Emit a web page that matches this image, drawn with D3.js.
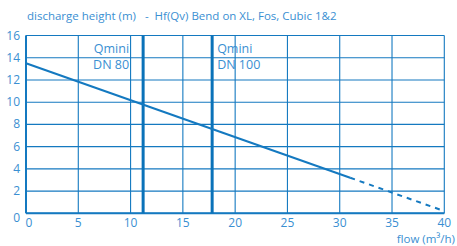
<!DOCTYPE html>
<html>
<head>
<meta charset="utf-8">
<script src="https://cdn.jsdelivr.net/npm/d3@7"></script>
<style>
  body { margin: 0; background: #fff; }
  svg text { font-family: "Open Sans", Lato, sans-serif; fill: #3a8fd2; }
</style>
</head>
<body>
<div id="chart"></div>
<script>
var xTicks = [0, 5, 10, 15, 20, 25, 30, 35, 40];
var yTicks = [0, 2, 4, 6, 8, 10, 12, 14, 16];
var solidCurve = [[0, 13.5], [31, 3.2]];
var dashedCurve = [[31, 3.2], [40, 0.2]];
var qminiFlows = [11.2, 17.8];
var qminiLabels = [["Qmini", "DN 80"], ["Qmini", "DN 100"]];

var width = 457, height = 246;
var blue = '#1479c0';

var svg = d3.select('#chart')
  .append('svg')
  .attr('width', width)
  .attr('height', height);

var x = d3.scaleLinear().domain([0, 40]).range([26, 444.3]);
var y = d3.scaleLinear().domain([0, 16]).range([213.3, 35.5]);

// grid
svg.selectAll('line.vgrid')
  .data(xTicks)
  .enter()
  .append('line')
  .attr('x1', function(d) { return x(d); })
  .attr('x2', function(d) { return x(d); })
  .attr('y1', y(0))
  .attr('y2', y(16))
  .attr('stroke', blue)
  .attr('stroke-width', 1.1);

svg.selectAll('line.hgrid')
  .data(yTicks)
  .enter()
  .append('line')
  .attr('x1', x(0))
  .attr('x2', x(40))
  .attr('y1', function(d) { return y(d); })
  .attr('y2', function(d) { return y(d); })
  .attr('stroke', blue)
  .attr('stroke-width', 1.1);

// axes lines
svg.append('line')
  .attr('x1', x(0)).attr('x2', x(0))
  .attr('y1', y(0)).attr('y2', y(16))
  .attr('stroke', blue).attr('stroke-width', 2);
svg.append('line')
  .attr('x1', x(0)).attr('x2', x(40))
  .attr('y1', y(0)).attr('y2', y(0))
  .attr('stroke', blue).attr('stroke-width', 2);

// Qmini lines
svg.selectAll('line.qmini')
  .data(qminiFlows)
  .enter()
  .append('line')
  .attr('x1', function(d) { return x(d); })
  .attr('x2', function(d) { return x(d); })
  .attr('y1', y(0))
  .attr('y2', y(16))
  .attr('stroke', '#0a72b9')
  .attr('stroke-width', 3);

// curve
var line = d3.line()
  .x(function(d) { return x(d[0]); })
  .y(function(d) { return y(d[1]); });

svg.append('path')
  .datum(solidCurve)
  .attr('d', line)
  .attr('fill', 'none')
  .attr('stroke', blue)
  .attr('stroke-width', 2);

svg.append('path')
  .datum(dashedCurve)
  .attr('d', line)
  .attr('fill', 'none')
  .attr('stroke', blue)
  .attr('stroke-width', 2)
  .attr('stroke-dasharray', '5,5');

// Qmini labels, one text per row
qminiLabels.forEach(function(lbl, i) {
  var tx = i === 0 ? x(qminiFlows[i]) - 14 : x(qminiFlows[i]) + 5;
  lbl.forEach(function(s, j) {
    svg.append('text')
      .attr('font-size', 12.5)
      .attr('text-anchor', i === 0 ? 'end' : 'start')
      .attr('x', tx)
      .attr('y', 53 + j * 16)
      .text(s);
  });
});

// tick labels
svg.selectAll('text.xt')
  .data(xTicks)
  .enter()
  .append('text')
  .attr('font-size', 12)
  .attr('text-anchor', 'middle')
  .attr('x', function(d) { return d === 0 ? x(d) + 3 : x(d); })
  .attr('y', 227)
  .text(function(d) { return d; });

svg.selectAll('text.yt')
  .data(yTicks)
  .enter()
  .append('text')
  .attr('font-size', 12)
  .attr('text-anchor', 'end')
  .attr('x', 20)
  .attr('y', function(d) { return d === 0 ? y(d) + 9 : y(d) + 4; })
  .text(function(d) { return d; });

// titles
svg.append('text')
  .attr('font-size', 11.5)
  .attr('x', 27)
  .attr('y', 20)
  .attr('xml:space', 'preserve')
  .text('discharge height (m)   -  Hf(Qv) Bend on XL, Fos, Cubic 1&2');

svg.append('text')
  .attr('font-size', 11.5)
  .attr('text-anchor', 'end')
  .attr('x', 455)
  .attr('y', 242.5)
  .text('flow (m³/h)');
</script>
</body>
</html>
